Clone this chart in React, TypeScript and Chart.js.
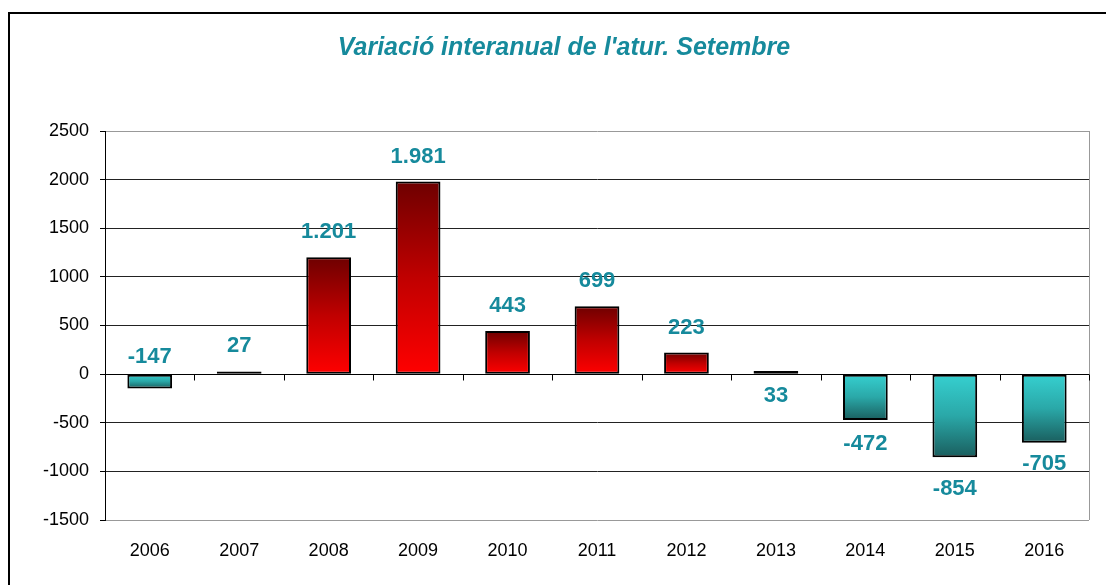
import React, { useEffect, useRef } from "react";
import { Chart, registerables } from "chart.js";

Chart.register(...registerables);

const TITLE = "Variació interanual de l'atur. Setembre";
const categories = ["2006", "2007", "2008", "2009", "2010", "2011", "2012", "2013", "2014", "2015", "2016"];
const values = [-147, 27, 1201, 1981, 443, 699, 223, 33, -472, -854, -705];
const barKinds = ["teal", "teal", "red", "red", "red", "red", "red", "red", "teal", "teal", "teal"];
// label offset (px) from the bar's end (negative = up)
const labelOffsets = [-31, -26, -25, -25, -25, -25, -25, 25, 24, 32, 21];
const yTicks = [2500, 2000, 1500, 1000, 500, 0, -500, -1000, -1500];

const LABEL_COLOR = "#168a9c";

function fmt(v: number): string {
  const s = Math.abs(v).toString();
  const withSep = s.replace(/\B(?=(\d{3})+(?!\d))/g, ".");
  return (v < 0 ? "-" : "") + withSep;
}

const decorPlugin = {
  id: "decor",
  afterDatasetsDraw(chart: any) {
    const ctx = chart.ctx;
    const { left, right, top, bottom } = chart.chartArea;
    const y = chart.scales.y;
    const y0 = Math.round(y.getPixelForValue(0)) + 0.5;
    ctx.save();
    // right plot border
    ctx.strokeStyle = "#999";
    ctx.lineWidth = 1;
    ctx.beginPath();
    ctx.moveTo(Math.round(right) + 0.5, top);
    ctx.lineTo(Math.round(right) + 0.5, bottom);
    ctx.stroke();
    // zero axis line with ticks
    ctx.strokeStyle = "#000";
    ctx.beginPath();
    ctx.moveTo(left, y0);
    ctx.lineTo(right, y0);
    const n = categories.length;
    for (let i = 1; i <= n; i++) {
      const x = Math.round(left + (i * (right - left)) / n) + 0.5;
      ctx.moveTo(x, y0);
      ctx.lineTo(x, y0 + 6);
    }
    ctx.stroke();
    // data labels
    const meta = chart.getDatasetMeta(0);
    ctx.fillStyle = LABEL_COLOR;
    ctx.font = "bold 22px 'Liberation Sans', Arial, sans-serif";
    ctx.textAlign = "center";
    ctx.textBaseline = "middle";
    meta.data.forEach((el: any, i: number) => {
      const v = values[i];
      const endY = y.getPixelForValue(v);
      ctx.fillText(fmt(v), el.x, endY + labelOffsets[i]);
    });
    // title
    ctx.font = "italic bold 25px 'Liberation Sans', Arial, sans-serif";
    ctx.fillText(TITLE, 564, 48);
    // outer frame
    ctx.strokeStyle = "#000";
    ctx.lineWidth = 2;
    ctx.beginPath();
    ctx.moveTo(9, 600);
    ctx.lineTo(9, 13);
    ctx.lineTo(1120, 13);
    ctx.stroke();
    ctx.restore();
  },
};

function barFill(context: any) {
  const chart = context.chart;
  const i = context.dataIndex;
  if (!chart.chartArea || i === undefined) return "#ccc";
  const y = chart.scales.y;
  const v = values[i];
  const py = y.getPixelForValue(v);
  const p0 = y.getPixelForValue(0);
  const t = Math.min(py, p0);
  const b = Math.max(py, p0) + 0.01;
  const g = chart.ctx.createLinearGradient(0, t, 0, b);
  if (barKinds[i] === "red") {
    g.addColorStop(0, "#6e0000");
    g.addColorStop(0.5, "#c00000");
    g.addColorStop(1, "#ff0000");
  } else {
    g.addColorStop(0, "#36d0d0");
    g.addColorStop(0.5, "#2aa8a8");
    g.addColorStop(1, "#1a5e5e");
  }
  return g;
}

export default function App() {
  const ref = useRef<HTMLCanvasElement>(null);
  useEffect(() => {
    if (!ref.current) return;
    const chart = new Chart(ref.current, {
      type: "bar",
      data: {
        labels: categories,
        datasets: [
          {
            data: values,
            backgroundColor: barFill as any,
            borderColor: "#000",
            borderWidth: 2,
            borderSkipped: false,
            barPercentage: 0.5,
            categoryPercentage: 1,
          },
        ],
      },
      options: {
        responsive: false,
        animation: false,
        layout: { padding: { left: 0, right: 17, top: 131, bottom: 0 } },
        plugins: {
          legend: { display: false },
          title: { display: false },
          tooltip: { enabled: false },
        },
        scales: {
          x: {
            position: "bottom",
            border: { display: false },
            grid: { display: false, drawTicks: false },
            ticks: {
              color: "#000",
              padding: 20,
              maxRotation: 0,
              font: { family: "'Liberation Sans', Arial, sans-serif", size: 18 },
            },
            afterFit: (s: any) => {
              s.height = 65;
            },
          },
          y: {
            min: -1500,
            max: 2500,
            afterBuildTicks: (s: any) => {
              s.ticks = yTicks.map((v) => ({ value: v }));
            },
            border: { display: true, color: "#000", width: 1 },
            grid: {
              color: (c: any) => (c.tick && (c.tick.value === 2500 || c.tick.value === -1500) ? "#999" : "#222"),
              tickColor: "#000",
              tickLength: 5,
              drawTicks: true,
            },
            ticks: {
              color: "#000",
              padding: 11,
              callback: (v: any) => String(v),
              font: { family: "'Liberation Sans', Arial, sans-serif", size: 18 },
            },
            afterFit: (s: any) => {
              s.width = 105;
            },
          },
        },
      },
      plugins: [decorPlugin],
    });
    return () => chart.destroy();
  }, []);
  return (
    <div style={{ position: "absolute", left: 0, top: 0, width: 1106, height: 585, overflow: "hidden", background: "#fff" }}>
      <canvas ref={ref} width={1106} height={585} style={{ display: "block" }} />
    </div>
  );
}
